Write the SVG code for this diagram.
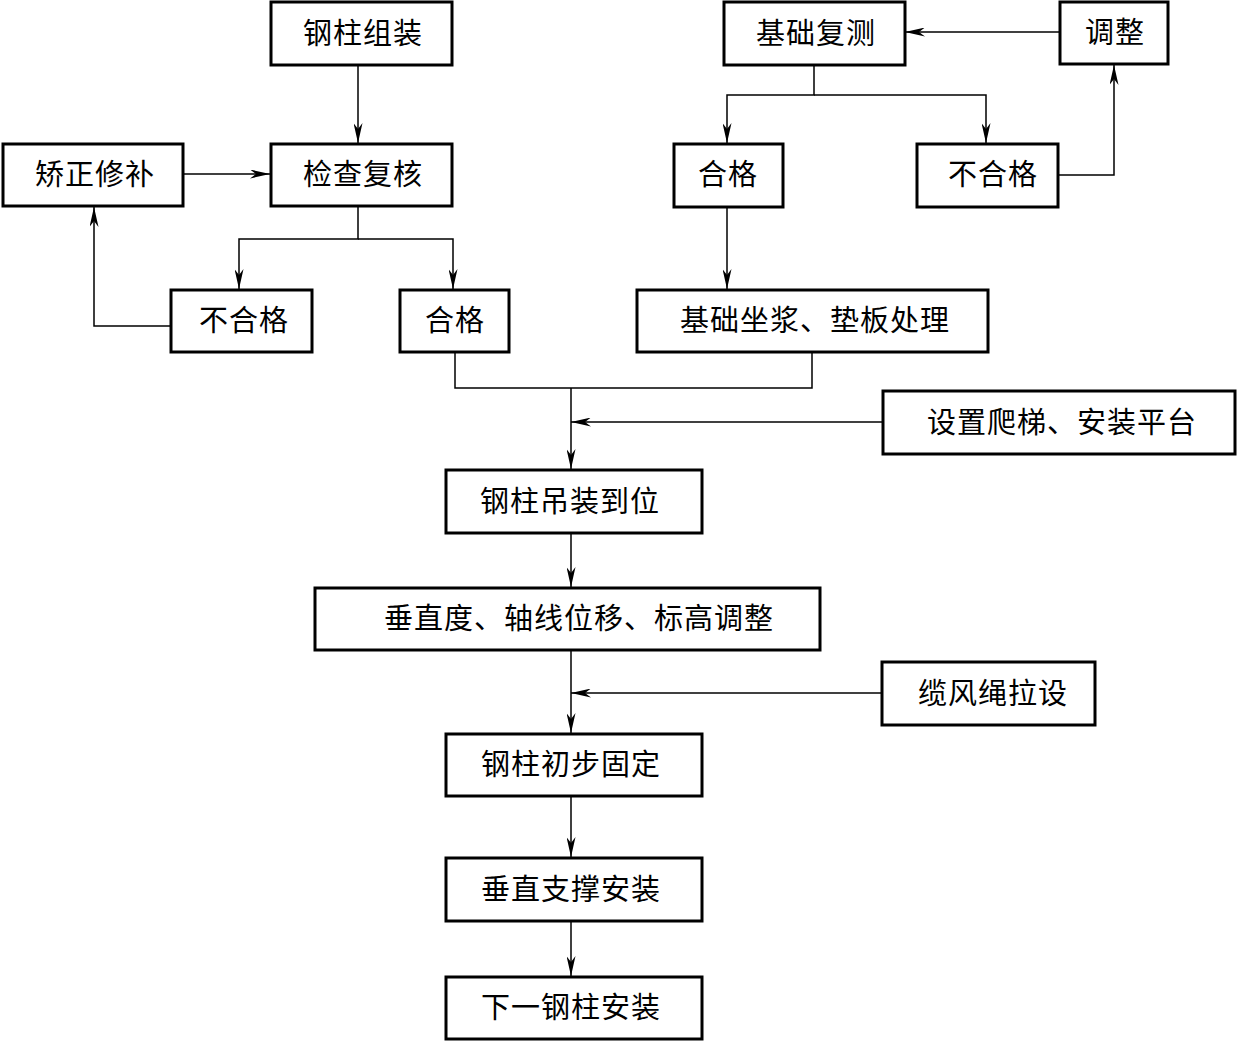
<svg xmlns="http://www.w3.org/2000/svg" width="1237" height="1042" viewBox="0 0 1237 1042">
<defs>
<style>
.box{fill:#fff;stroke:#000;stroke-width:3}
.t{font-family:"Noto Sans CJK SC","Noto Sans",sans-serif;font-size:29px;letter-spacing:1px;fill:#000;text-anchor:middle}
.c{fill:none;stroke:#000;stroke-width:1.5}
</style>
<marker id="ah" viewBox="0 0 20 9" refX="20" refY="4.5" markerWidth="20" markerHeight="9" markerUnits="userSpaceOnUse" orient="auto">
<path d="M0,0 L20,4.5 L0,9 L6,4.5 Z" fill="#000"/>
</marker>
</defs>
<rect width="1237" height="1042" fill="#fff"/>
<g id="connectors">
<path class="c" d="M358,66 V143" marker-end="url(#ah)"/>
<path class="c" d="M184,174 H270" marker-end="url(#ah)"/>
<path class="c" d="M358,207 V239 H239 V289" marker-end="url(#ah)"/>
<path class="c" d="M358,239 H453 V289" marker-end="url(#ah)"/>
<path class="c" d="M170,326 H94 V207" marker-end="url(#ah)"/>
<path class="c" d="M814,66 V95 H727 V143" marker-end="url(#ah)"/>
<path class="c" d="M814,95 H986 V143" marker-end="url(#ah)"/>
<path class="c" d="M1059,32 H905" marker-end="url(#ah)"/>
<path class="c" d="M1059,175 H1114 V65" marker-end="url(#ah)"/>
<path class="c" d="M727,208 V289" marker-end="url(#ah)"/>
<path class="c" d="M455,353 V388 H812 V353"/>
<path class="c" d="M571,388 V469" marker-end="url(#ah)"/>
<path class="c" d="M883,422 H571" marker-end="url(#ah)"/>
<path class="c" d="M571,534 V587" marker-end="url(#ah)"/>
<path class="c" d="M571,651 V733" marker-end="url(#ah)"/>
<path class="c" d="M881,693 H571" marker-end="url(#ah)"/>
<path class="c" d="M571,797 V857" marker-end="url(#ah)"/>
<path class="c" d="M571,922 V976" marker-end="url(#ah)"/>
</g>
<g id="n1"><rect class="box" x="271" y="2" width="181" height="63"/><text class="t" x="363" y="44">钢柱组装</text></g>
<g id="n2"><rect class="box" x="271" y="144" width="181" height="62"/><text class="t" x="363" y="185">检查复核</text></g>
<g id="n3"><rect class="box" x="3" y="144" width="180" height="62"/><text class="t" x="95" y="185">矫正修补</text></g>
<g id="n4"><rect class="box" x="171" y="290" width="141" height="62"/><text class="t" x="244" y="331">不合格</text></g>
<g id="n5"><rect class="box" x="400" y="290" width="109" height="62"/><text class="t" x="455" y="331">合格</text></g>
<g id="n6"><rect class="box" x="724" y="2" width="181" height="63"/><text class="t" x="816" y="44">基础复测</text></g>
<g id="n7"><rect class="box" x="1060" y="2" width="108" height="62"/><text class="t" x="1115" y="43">调整</text></g>
<g id="n8"><rect class="box" x="674" y="144" width="109" height="63"/><text class="t" x="728" y="185">合格</text></g>
<g id="n9"><rect class="box" x="917" y="144" width="141" height="63"/><text class="t" x="993" y="185">不合格</text></g>
<g id="n10"><rect class="box" x="637" y="290" width="351" height="62"/><text class="t" x="815" y="331">基础坐浆、垫板处理</text></g>
<g id="n11"><rect class="box" x="883" y="391" width="352" height="63"/><text class="t" x="1062" y="433">设置爬梯、安装平台</text></g>
<g id="n12"><rect class="box" x="446" y="470" width="256" height="63"/><text class="t" x="570" y="512">钢柱吊装到位</text></g>
<g id="n13"><rect class="box" x="315" y="588" width="505" height="62"/><text class="t" x="579" y="629">垂直度、轴线位移、标高调整</text></g>
<g id="n14"><rect class="box" x="882" y="662" width="213" height="63"/><text class="t" x="993" y="704">缆风绳拉设</text></g>
<g id="n15"><rect class="box" x="446" y="734" width="256" height="62"/><text class="t" x="571" y="775">钢柱初步固定</text></g>
<g id="n16"><rect class="box" x="446" y="858" width="256" height="63"/><text class="t" x="571" y="900">垂直支撑安装</text></g>
<g id="n17"><rect class="box" x="446" y="977" width="256" height="62"/><text class="t" x="571" y="1018">下一钢柱安装</text></g>
</svg>
